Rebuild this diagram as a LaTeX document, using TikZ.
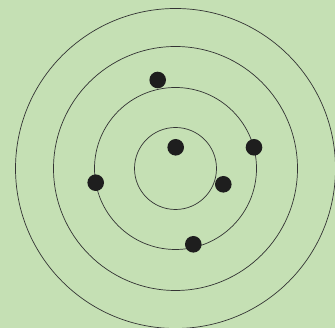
\documentclass[tikz,border=0pt]{standalone}
\usepackage{tikz}
\definecolor{RingGreen}{HTML}{C5E0B4}
\definecolor{RingLine}{HTML}{333333}
\definecolor{DotBlack}{HTML}{1E1E1E}

\begin{document}
\begin{tikzpicture}[x=1pt, y=1pt,
  ring/.style={draw=RingLine, line width=0.7pt},
  dot/.style={circle, fill=DotBlack, inner sep=0pt, minimum size=16.6pt}]
% Background and frame size
\fill[RingGreen] (0, 0) rectangle (335, 328);
\useasboundingbox (0, 0) rectangle (335, 328);

% Concentric rings
\coordinate (centre) at (175.5, 159.5);
\foreach \r in {41, 81, 122, 160}
{
  \draw[ring] (centre) circle[radius=\r];
}

% Dots
\foreach \name/\x/\y in {
  dotA/157.7/248,
  dotB/175.7/180.7,
  dotC/254/180.7,
  dotD/95.7/145.3,
  dotE/223.3/143.7,
  dotF/193.3/83.7}
{
  \node[dot] (\name) at (\x, \y) {};
}
\end{tikzpicture}
\end{document}
